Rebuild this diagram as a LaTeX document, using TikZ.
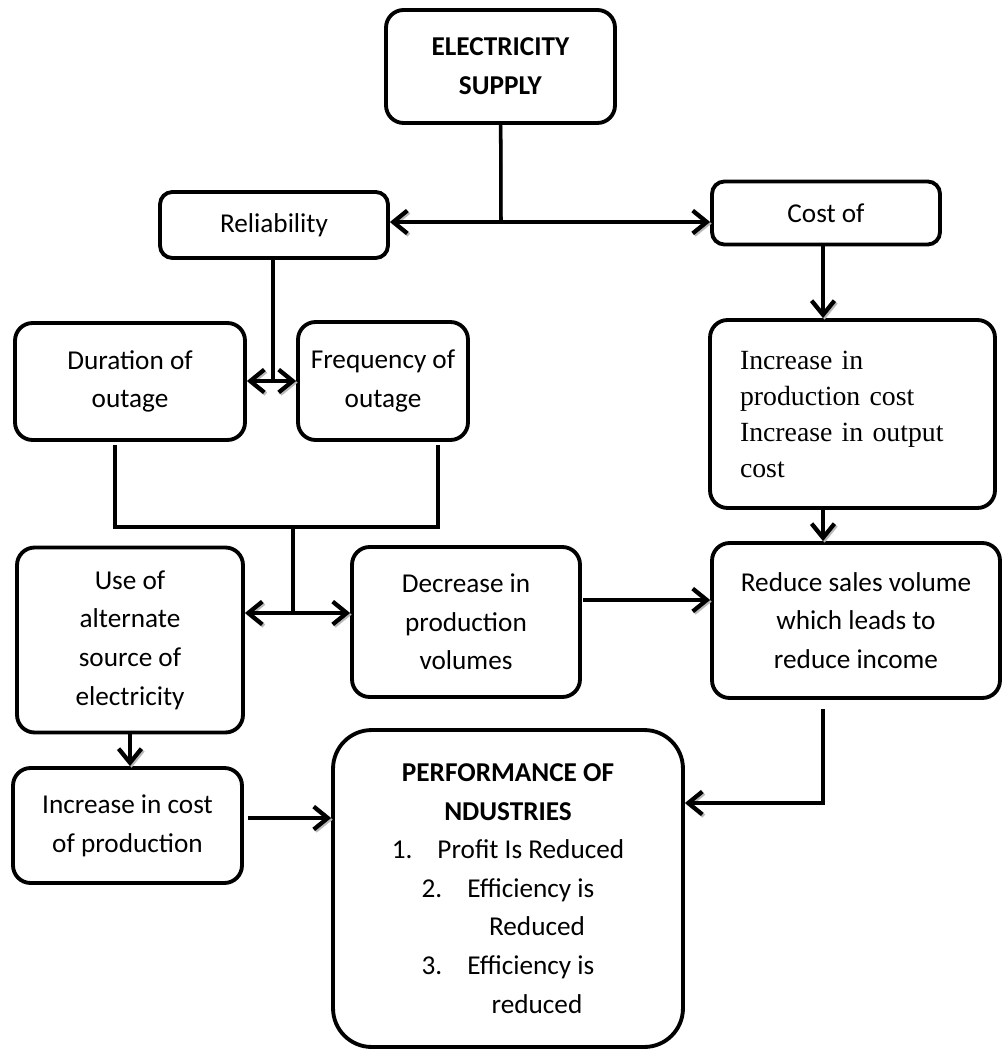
\documentclass[tikz,border=0pt]{standalone}
\usepackage{fontspec}
\setmainfont{Carlito}
\newfontfamily\serifbox{Liberation Serif}
\usetikzlibrary{arrows.meta}
\usetikzlibrary{calc}
\tikzset{
box/.style 2 args={
	draw, line width=2.2pt, rounded corners=10pt,
	minimum width=#1, minimum height=#2,
	align=center, inner sep=2pt,
	font=\fontsize{15.5}{22}\selectfont
},
link/.style={
	line width=2pt,
	preaction={draw=gray!55, transform canvas={shift={(0.9pt,-0.9pt)}}}
},
arr/.style={link, -{Straight Barb[length=8pt,width=13pt,line width=2.4pt]}},
dbl/.style={link, {Straight Barb[length=8pt,width=13pt,line width=2.4pt]}-{Straight Barb[length=8pt,width=13pt,line width=2.4pt]}},
}
\begin{document}
\begin{tikzpicture}[x=0.02cm, y=-0.02cm]
\useasboundingbox (0,0) rectangle (1003,1050);
%Place the nodes
\node[box={4.58cm}{2.26cm}] (supply) at (500.5,66.5) {\textbf{ELECTRICITY}\\\textbf{SUPPLY}};
\node[box={4.56cm}{1.32cm}, rounded corners=7pt] (rel) at (274,225) {Reliability};
\node[box={4.56cm}{1.26cm}, rounded corners=7pt] (cost) at (826,213) {Cost of};
\node[box={4.6cm}{2.34cm}] (dur) at (130,381.5) {Duration of\\outage};
\node[box={3.4cm}{2.36cm}] (freq) at (383,381) {Frequency of\\outage};
\node[box={5.7cm}{3.76cm}, text width=4.5cm, align=left, inner sep=0pt,
	font=\serifbox\fontsize{15.8}{20.5}\selectfont] (inc) at (852.5,414)
	{Increase in\\production cost\\Increase in output\\cost};
\node[box={4.52cm}{3.7cm}] (alt) at (130,640) {Use of\\alternate\\source of\\electricity};
\node[box={4.56cm}{3cm}] (dec) at (466,622) {Decrease in\\production\\volumes};
\node[box={5.76cm}{3.1cm}] (red) at (856,620.5) {Reduce sales volume\\which leads to\\reduce income};
\node[box={4.58cm}{2.3cm}] (icp) at (127.5,825.5) {Increase in cost\\of production};
\node[box={7cm}{6.34cm}, rounded corners=22pt] (perf) at (508,888.5)
	{\textbf{PERFORMANCE OF}\\\textbf{NDUSTRIES}\\
	\makebox[26pt][l]{1.}Profit Is Reduced\\
	\makebox[26pt][l]{2.}Efficiency is\\
	\hspace*{33pt}Reduced\\
	\makebox[26pt][l]{3.}Efficiency is\\
	\hspace*{33pt}reduced};

%Junctions
\coordinate (j1) at (501,222);
\coordinate (j2) at (273,381);
\coordinate (b1) at (115,527);
\coordinate (b2) at (438,527);
\coordinate (j3) at (293,613);
\coordinate (j4) at (583,600);
\coordinate (j5) at (248,818);
\coordinate (j6) at (823,803);

\draw[link] (supply) -- (j1);
\draw[dbl] (rel.east |- j1) -- (cost.west |- j1);

\draw[link] (rel.south -| j2) -- (j2);
\draw[dbl] (dur.east |- j2) -- (freq.west |- j2);

\draw[link] ($(dur.south -| b1)+(0,3)$) -- (b1) -- (b2) -- ($(freq.south -| b2)+(0,3)$);
\draw[link] (j3 |- b1) -- (j3);
\draw[dbl] (alt.east |- j3) -- (dec.west |- j3);

\draw[arr] (cost.south -| j6) -- (inc.north -| j6);
\draw[arr] (inc.south -| j6) -- (red.north -| j6);
\draw[arr] (j4) -- (j4 -| red.west);

\draw[arr] (alt.south) -- (alt.south |- icp.north);
\draw[arr] (j5) -- (j5 -| perf.west);
\draw[arr] ($(red.south -| j6)+(0,9)$) -- (j6) -- (j6 -| perf.east);

\end{tikzpicture}
\end{document}
